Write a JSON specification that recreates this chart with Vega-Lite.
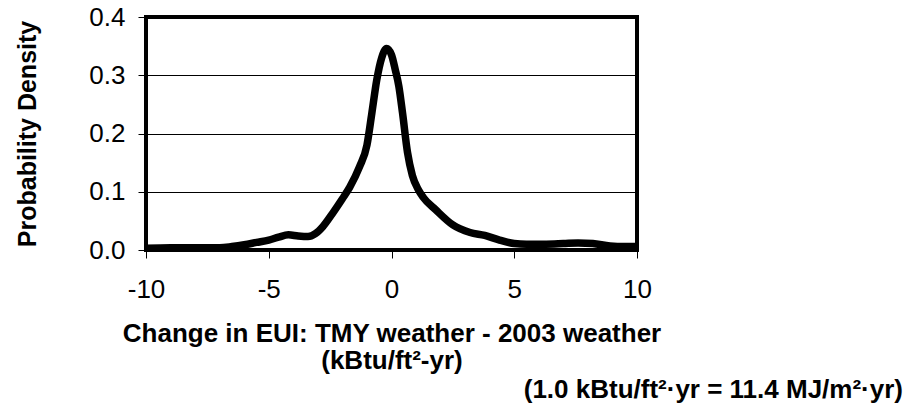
{
  "$schema": "https://vega.github.io/schema/vega-lite/v6.json",
  "autosize": "none",
  "width": 491,
  "height": 233,
  "padding": {"left": 146, "top": 17, "right": 274, "bottom": 159},
  "background": "white",
  "config": {
    "font": "Liberation Sans",
    "view": {"stroke": "black", "strokeWidth": 4}
  },
  "title": {
    "text": "(1.0 kBtu/ft²·yr = 11.4 MJ/m²·yr)",
    "orient": "bottom",
    "anchor": "end",
    "frame": "group",
    "dx": 266,
    "offset": 4,
    "font": "Liberation Sans",
    "fontSize": 26,
    "fontWeight": "bold",
    "color": "black"
  },
  "data": {
    "values": [
      {"x": -10, "y": 0.003}, {"x": -9, "y": 0.004}, {"x": -8, "y": 0.004},
      {"x": -7, "y": 0.004}, {"x": -6.5, "y": 0.006}, {"x": -6, "y": 0.009},
      {"x": -5.5, "y": 0.013}, {"x": -5, "y": 0.017}, {"x": -4.6, "y": 0.022},
      {"x": -4.2, "y": 0.026}, {"x": -3.8, "y": 0.024}, {"x": -3.4, "y": 0.023},
      {"x": -3.1, "y": 0.028}, {"x": -2.8, "y": 0.04}, {"x": -2.4, "y": 0.063},
      {"x": -2.0, "y": 0.088}, {"x": -1.7, "y": 0.108}, {"x": -1.3, "y": 0.143},
      {"x": -1.0, "y": 0.18}, {"x": -0.8, "y": 0.235}, {"x": -0.6, "y": 0.292},
      {"x": -0.4, "y": 0.33}, {"x": -0.2, "y": 0.346}, {"x": 0.0, "y": 0.335},
      {"x": 0.15, "y": 0.31}, {"x": 0.3, "y": 0.281}, {"x": 0.45, "y": 0.235},
      {"x": 0.65, "y": 0.168}, {"x": 0.85, "y": 0.128}, {"x": 1.1, "y": 0.103},
      {"x": 1.3, "y": 0.09}, {"x": 1.8, "y": 0.069}, {"x": 2.5, "y": 0.043},
      {"x": 3.2, "y": 0.03}, {"x": 3.8, "y": 0.025}, {"x": 4.4, "y": 0.017},
      {"x": 5.0, "y": 0.011}, {"x": 5.5, "y": 0.01}, {"x": 6.3, "y": 0.01},
      {"x": 7.0, "y": 0.011}, {"x": 7.6, "y": 0.012}, {"x": 8.2, "y": 0.011},
      {"x": 8.9, "y": 0.007}, {"x": 9.5, "y": 0.006}, {"x": 10, "y": 0.006}
    ]
  },
  "mark": {"type": "line", "color": "black", "strokeWidth": 7.5, "interpolate": "monotone", "strokeJoin": "round", "strokeCap": "round", "clip": true},
  "encoding": {
    "x": {
      "field": "x", "type": "quantitative",
      "scale": {"domain": [-10, 10], "nice": false},
      "axis": {
        "values": [-10, -5, 0, 5, 10],
        "labelExpr": "'' + datum.value",
        "grid": false,
        "domain": false,
        "tickColor": "black", "tickSize": 8, "tickWidth": 1,
        "labelFont": "Liberation Sans", "labelFontSize": 26, "labelColor": "black",
        "labelPadding": 18,
        "labelFlush": false,
        "title": ["Change in EUI: TMY weather - 2003 weather", "(kBtu/ft²-yr)"],
        "titleFont": "Liberation Sans", "titleFontSize": 26, "titleFontWeight": "bold",
        "titleColor": "black", "titlePadding": 18, "titleLineHeight": 27
      }
    },
    "y": {
      "field": "y", "type": "quantitative",
      "scale": {"domain": [0, 0.4], "nice": false},
      "axis": {
        "values": [0, 0.1, 0.2, 0.3, 0.4],
        "format": ".1f",
        "grid": true, "gridColor": "black", "gridWidth": 1, "gridOpacity": 1,
        "domain": false,
        "tickColor": "black", "tickSize": 8, "tickWidth": 1,
        "labelFont": "Liberation Sans", "labelFontSize": 26, "labelColor": "black",
        "labelPadding": 13,
        "labelFlush": false,
        "title": "Probability Density",
        "titleFont": "Liberation Sans", "titleFontSize": 25, "titleFontWeight": "bold",
        "titleColor": "black", "titlePadding": 48
      }
    }
  }
}
